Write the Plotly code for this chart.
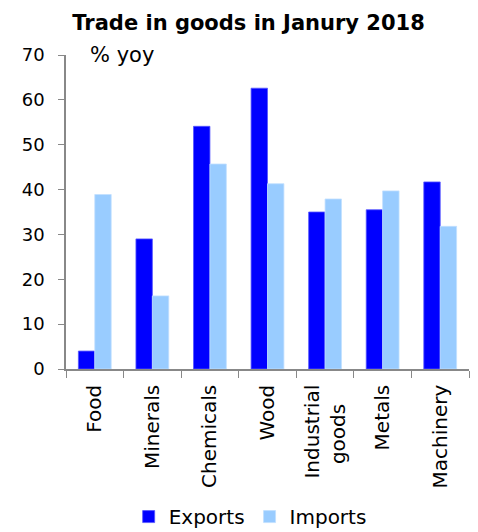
import plotly.graph_objects as go

categories = ["Food", "Minerals", "Chemicals", "Wood", "Industrial<br>goods\u00a0\u00a0\u00a0", "Metals", "Machinery"]
exports = [4.0, 29.0, 54.1, 62.6, 35.0, 35.5, 41.7]
imports = [38.9, 16.3, 45.7, 41.3, 37.9, 39.7, 31.8]
y_ticks = [0, 10, 20, 30, 40, 50, 60, 70]

FONT = "DejaVu Sans"

fig = go.Figure()
fig.add_trace(go.Bar(name="Exports", x=categories, y=exports,
                     marker=dict(color="#0000FF", line=dict(color="#5555FF", width=0.8))))
fig.add_trace(go.Bar(name="Imports", x=categories, y=imports,
                     marker=dict(color="#99CCFF", line=dict(color="#C2E0FF", width=0.8))))

fig.update_layout(
    width=478, height=532,
    margin=dict(l=66, r=9, t=55, b=163, autoexpand=False),
    paper_bgcolor="white", plot_bgcolor="white",
    font=dict(family=FONT, size=20, color="black"),
    title=dict(text="<b>Trade in goods in Janury 2018</b>", x=0.52, xanchor="center",
               y=0.958, yanchor="middle", font=dict(size=21, family=FONT)),
    barmode="group", bargap=0.43, bargroupgap=0,
    showlegend=True,
    legend=dict(orientation="h", x=0.457, xanchor="center", y=-0.47, yanchor="middle",
                font=dict(size=20), itemwidth=30, traceorder="normal"),
    xaxis=dict(showline=True, linecolor="#888888", linewidth=1.5, ticks="outside",
               tickson="boundaries", ticklen=7, tickcolor="#888888", tickangle=-90,
               showgrid=False, tickfont=dict(size=20), automargin=False,
               ticklabelstandoff=6),
    yaxis=dict(range=[0, 70], tickvals=y_ticks, showline=True, linecolor="#888888",
               linewidth=1.5, ticks="outside", ticklen=6, tickcolor="#888888",
               showgrid=False, zeroline=False, tickfont=dict(size=18),
               ticklabelstandoff=10, automargin=False),
    annotations=[dict(text="% yoy", xref="paper", yref="paper", x=0.055, y=1.0,
                      xanchor="left", yanchor="middle", showarrow=False,
                      font=dict(size=21))],
)

fig.write_html("out.html", config={"displayModeBar": False},
               post_script="document.body.style.margin='0';document.body.style.overflow='hidden';")
